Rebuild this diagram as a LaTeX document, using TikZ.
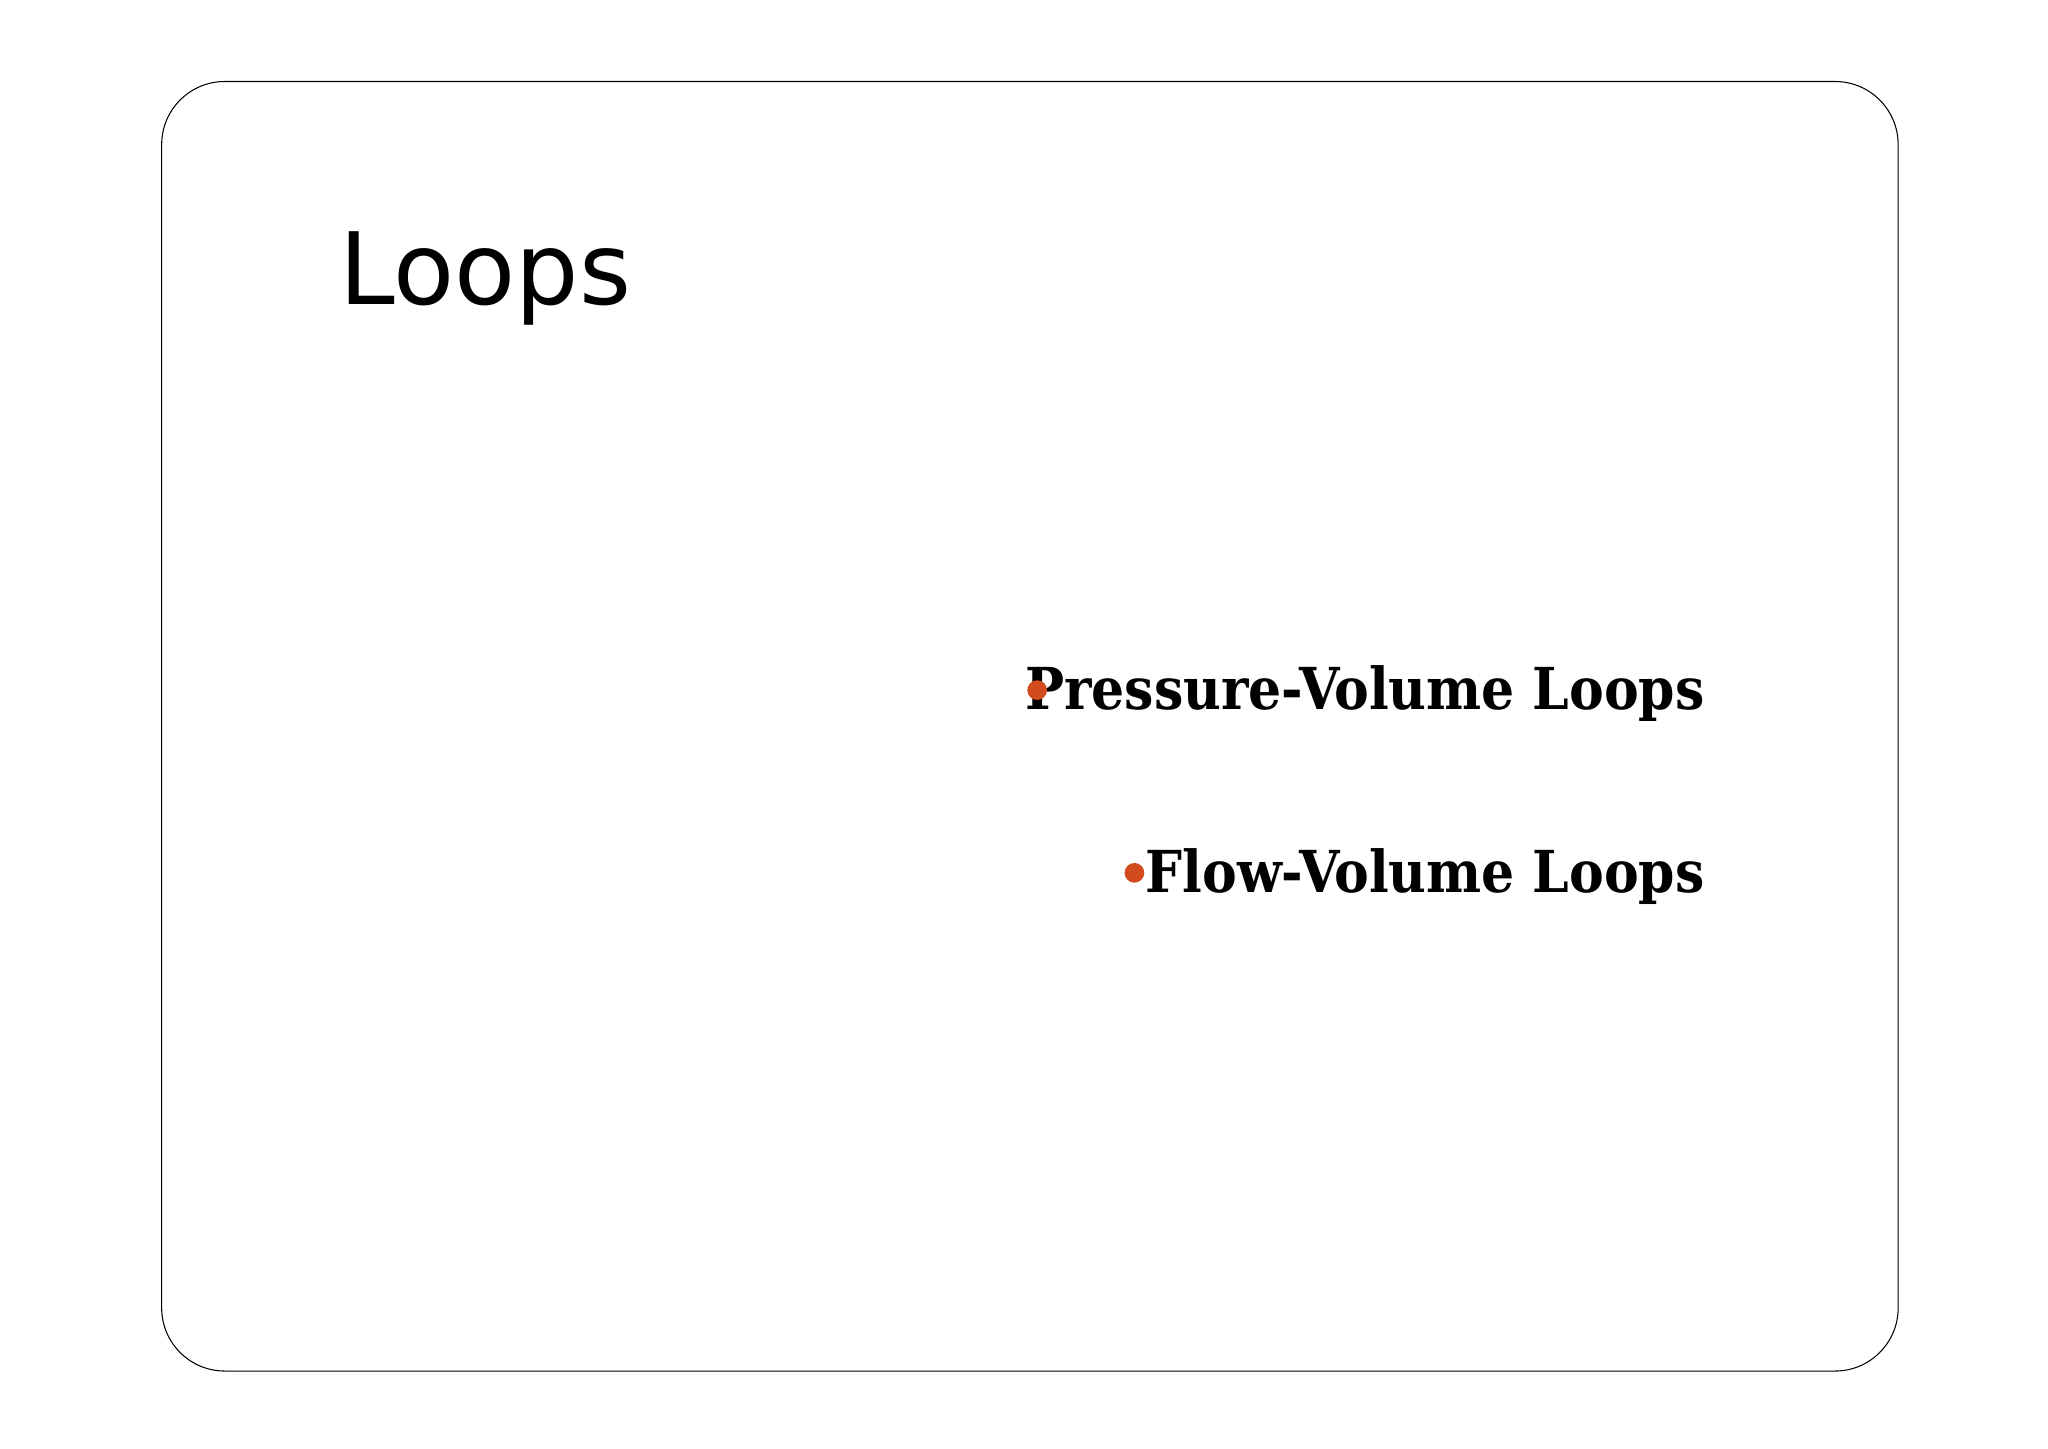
\documentclass[tikz,border=0pt]{standalone}
\usepackage{fontspec}
\setmainfont{DejaVu Serif}
\newfontfamily\titlefont{DejaVu Sans}
\newfontfamily\bulletfont{DejaVu Serif Condensed Bold}
\definecolor{bul}{HTML}{D24B1E}
\begin{document}
\begin{tikzpicture}[x=1pt,y=-1pt,
  item/.style={anchor=base east,inner sep=0pt,font=\bulletfont\fontsize{44}{48}\selectfont},
  dot/.style={circle,fill=bul,inner sep=0pt,minimum size=15pt}]
\useasboundingbox (0,0) rectangle (1558,1102);
\draw[line width=0.8pt,rounded corners=48pt] (123,62) rectangle (1444,1043);
\node[anchor=base west,inner sep=0pt,font=\titlefont\fontsize{76}{80}\selectfont] (title) at (258,232) {Loops};
\node[item] (pv) at (1297,540) {Pressure-Volume Loops};
\node[item] (fv) at (1297,679) {Flow-Volume Loops};
\node[dot] (d1) at (789,525) {};
\node[dot] (d2) at (863,664) {};
\end{tikzpicture}
\end{document}
